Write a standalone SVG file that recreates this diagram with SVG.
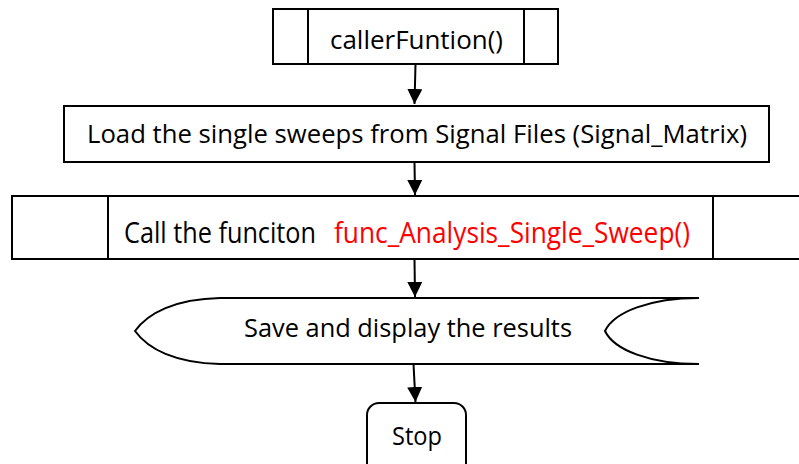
<svg xmlns="http://www.w3.org/2000/svg" width="799" height="464" viewBox="0 0 799 464">
  <style>
    .shape { fill: #ffffff; stroke: #000000; stroke-width: 2; }
    .div { stroke: #000000; stroke-width: 2; fill: none; }
    .label { font-family: "Open Sans", "Noto Sans", "Liberation Sans", sans-serif; font-size: 25px; fill: #000000; }
    .big { font-size: 29px; }
    .red { fill: #ff0000; }
    .conn { stroke: #000000; stroke-width: 2; fill: none; marker-end: url(#arrow); }
  </style>
  <defs>
    <marker id="arrow" markerUnits="userSpaceOnUse" markerWidth="16" markerHeight="16" refX="15" refY="7.5" orient="auto">
      <path d="M0,0 L15,7.5 L0,15 Z" fill="#000000"/>
    </marker>
  </defs>
  <rect width="799" height="464" fill="#ffffff"/>

  <!-- predefined process: callerFuntion() -->
  <g id="caller">
    <rect class="shape" x="273" y="9" width="285" height="55"/>
    <line class="div" x1="308" y1="9" x2="308" y2="64"/>
    <line class="div" x1="524" y1="9" x2="524" y2="64"/>
    <text class="label" x="330" y="49" textLength="173" lengthAdjust="spacingAndGlyphs">callerFuntion()</text>
  </g>

  <!-- process: load sweeps -->
  <g id="load">
    <rect class="shape" x="64" y="106" width="705" height="56"/>
    <text class="label" x="87" y="143" textLength="660" lengthAdjust="spacingAndGlyphs">Load the single sweeps from Signal Files (Signal_Matrix)</text>
  </g>

  <!-- predefined process: analysis call -->
  <g id="call">
    <rect class="shape" x="12" y="196" width="800" height="63"/>
    <line class="div" x1="108" y1="196" x2="108" y2="259"/>
    <line class="div" x1="713" y1="196" x2="713" y2="259"/>
    <text class="label big" x="124" y="243" textLength="192" lengthAdjust="spacingAndGlyphs">Call the funciton</text>
    <text class="label big red" x="334" y="243" textLength="356" lengthAdjust="spacingAndGlyphs">func_Analysis_Single_Sweep()</text>
  </g>

  <!-- display -->
  <g id="display">
    <path class="shape" d="M699,298 L220,298 C175,299 148,313 135,331 C148,349 175,363 220,364 L699,364"/>
    <path class="div" d="M699,298 C650,298 614,312 605,331 C614,350 650,364 699,364"/>
    <text class="label" x="244" y="337" textLength="328" lengthAdjust="spacingAndGlyphs">Save and display the results</text>
  </g>

  <!-- terminator -->
  <g id="stop">
    <rect class="shape" x="367" y="403" width="99" height="80" rx="12" ry="12"/>
    <text class="label" x="392" y="445" textLength="50" lengthAdjust="spacingAndGlyphs">Stop</text>
  </g>

  <!-- connectors -->
  <g id="connectors">
    <line class="conn" x1="415.5" y1="64" x2="414.5" y2="104"/>
    <line class="conn" x1="414.5" y1="162" x2="415" y2="195"/>
    <line class="conn" x1="414.5" y1="259" x2="415" y2="297"/>
    <line class="conn" x1="413.5" y1="364" x2="415.5" y2="402"/>
  </g>
</svg>
